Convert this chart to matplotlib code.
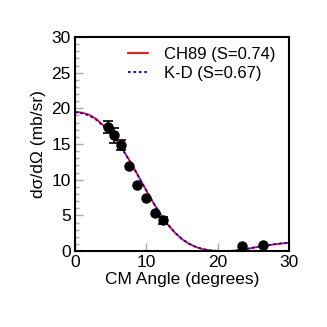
import matplotlib
matplotlib.use("Agg")
import matplotlib.pyplot as plt
import numpy as np
from matplotlib.ticker import MultipleLocator

plt.rcParams["font.family"] = ["Liberation Sans", "DejaVu Sans"]

# measured cross sections (0 error = bar hidden behind marker)
angle = [4.67, 5.52, 6.45, 7.53, 8.70, 9.91, 11.27, 12.34, 23.38, 26.41]
xsec = [17.4, 16.2, 14.8, 11.9, 9.2, 7.5, 5.4, 4.3, 0.75, 0.84]
xsec_err = [0.8, 1.0, 0.7, 0.0, 0.0, 0.0, 0.0, 0.5, 0.0, 0.0]

# model curves
theta = list(range(0, 31))
ch89 = [19.55, 19.4, 19.1, 18.5, 17.6, 16.5, 15.2, 13.75, 12.1, 10.3,
        8.5, 6.75, 5.15, 3.75, 2.6, 1.68, 1.02, 0.56, 0.26, 0.09,
        0.02, 0.0, 0.03, 0.14, 0.3, 0.48, 0.65, 0.82, 0.96, 1.08, 1.17]
kd = [19.45, 19.3, 19.0, 18.4, 17.5, 16.45, 15.15, 13.72, 12.08, 10.3,
      8.5, 6.76, 5.16, 3.76, 2.61, 1.69, 1.03, 0.57, 0.27, 0.1,
      0.03, 0.01, 0.04, 0.15, 0.31, 0.49, 0.66, 0.83, 0.97, 1.09, 1.18]

fig = plt.figure(figsize=(3.27, 3.27), dpi=100)
ax = fig.add_axes([0.229, 0.232, 0.655, 0.655])

ax.plot(theta, ch89, color="red", lw=1.3, label="CH89 (S=0.74)")
ax.plot(theta, kd, color="blue", lw=1.3, ls=(0, (1.5, 1.5)), label="K-D (S=0.67)")

a = np.array(angle)
y = np.array(xsec)
e = np.array(xsec_err)
has_err = e > 0
ax.errorbar(a[has_err], y[has_err], yerr=e[has_err], fmt="o", color="black",
            ms=6.5, capsize=3.5, elinewidth=1.2, capthick=1.2)
ax.plot(a[~has_err], y[~has_err], "o", color="black", ms=6.5)

ax.set_xlim(0, 30)
ax.set_ylim(0, 30)
ax.xaxis.set_major_locator(MultipleLocator(10))
ax.yaxis.set_major_locator(MultipleLocator(5))
ax.yaxis.set_minor_locator(MultipleLocator(1))
ax.tick_params(axis="both", which="major", direction="in", length=6,
               width=1, color="#aaaaaa", labelsize=12.5, pad=3)
ax.tick_params(axis="y", which="minor", direction="in", length=3,
               width=1, color="#aaaaaa")
for s in ax.spines.values():
    s.set_linewidth(1.5)

ax.set_xlabel("CM Angle (degrees)", fontsize=12.5, labelpad=1)
ax.set_ylabel("dσ/dΩ (mb/sr)", fontsize=12.5, labelpad=4)

ax.legend(loc="upper right", frameon=False, fontsize=12, handlelength=1.2,
          handletextpad=1.0, labelspacing=0.25, borderaxespad=0.0,
          bbox_to_anchor=(0.97, 0.985))

fig.savefig("out.png", dpi=100)
